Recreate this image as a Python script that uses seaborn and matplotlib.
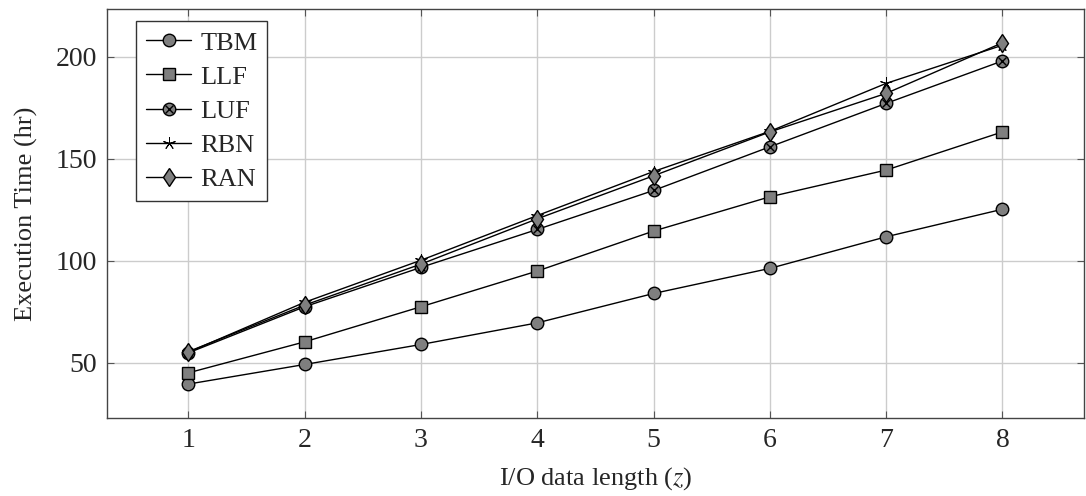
import matplotlib
matplotlib.use("Agg")
import matplotlib.pyplot as plt
import seaborn as sns
from matplotlib.lines import Line2D
from matplotlib.legend_handler import HandlerTuple

# I/O data length and execution time (hours) for each scheduling policy
z = [1, 2, 3, 4, 5, 6, 7, 8]
tbm = [39.6, 49.2, 59.0, 69.6, 84.0, 96.3, 111.8, 125.3]
llf = [45.1, 60.3, 77.5, 95.0, 114.6, 131.4, 144.5, 163.2]
luf = [54.9, 77.5, 96.8, 115.4, 134.5, 155.9, 177.2, 198.0]
rbn = [55.2, 79.7, 100.3, 122.2, 143.8, 163.5, 187.0, 205.7]
ran = [55.5, 78.3, 98.4, 120.6, 141.7, 163.2, 182.1, 206.9]
series_names = ["TBM", "LLF", "LUF", "RBN", "RAN"]
x_ticks = [1, 2, 3, 4, 5, 6, 7, 8]
y_ticks = [50, 100, 150, 200]

sns.set_theme(style="ticks")
plt.rcParams["font.family"] = ["Liberation Serif", "DejaVu Serif"]
plt.rcParams["mathtext.fontset"] = "stix"

FS_TICK = 20
FS_LABEL = 19
FS_LEG = 19
GRAY = "#7f7f7f"
STAR = (5, 2, 0)

fig = plt.figure(figsize=(10.86, 4.96), dpi=100)
ax = fig.add_axes([0.0985, 0.157, 0.8995, 0.825])

common = dict(color="black", linewidth=1.0, markerfacecolor=GRAY,
              markeredgecolor="black", markeredgewidth=1.0,
              errorbar=None, legend=False, ax=ax)

sns.lineplot(x=z, y=tbm, marker="o", markersize=9.0, **common)
sns.lineplot(x=z, y=llf, marker="s", markersize=8.4, **common)
sns.lineplot(x=z, y=luf, marker="o", markersize=9.0, **common)
ax.plot(z, luf, linestyle="none", marker="x", markersize=6.0,
        markeredgecolor="black", markeredgewidth=1.0)
rbn_kw = dict(common, markeredgewidth=0.7)
sns.lineplot(x=z, y=rbn, marker=STAR, markersize=9.0, **rbn_kw)
sns.lineplot(x=z, y=ran, marker="d", markersize=9.5, **common)

ax.set_xlim(0.3, 8.7)
ax.set_ylim(22.9, 223.5)
ax.set_xticks(x_ticks)
ax.set_yticks(y_ticks)
ax.grid(True, color="#cccccc", linewidth=1.0)
ax.set_axisbelow(True)
ax.tick_params(direction="in", length=5, width=0.8, color="#555555",
               top=True, right=True, labelsize=FS_TICK, pad=7)
for s in ax.spines.values():
    s.set_color("#444444")
    s.set_linewidth(1.0)

ax.set_xlabel("I/O data length ($z$)", fontsize=FS_LABEL, labelpad=9)
ax.set_ylabel("Execution Time (hr)", fontsize=FS_LABEL, labelpad=13)

kw = dict(color="black", linewidth=1.0, markerfacecolor=GRAY,
          markeredgecolor="black", markeredgewidth=1.0)
h_tbm = Line2D([], [], marker="o", markersize=9.0, **kw)
h_llf = Line2D([], [], marker="s", markersize=8.4, **kw)
h_luf = (Line2D([], [], marker="o", markersize=9.0, **kw),
         Line2D([], [], linestyle="none", marker="x", markersize=6.0,
                markeredgecolor="black", markeredgewidth=1.0))
h_rbn = Line2D([], [], marker=STAR, markersize=9.0,
               **dict(kw, markeredgewidth=0.7))
h_ran = Line2D([], [], marker="d", markersize=9.5, **kw)

leg = ax.legend([h_tbm, h_llf, h_luf, h_rbn, h_ran], series_names,
                handler_map={tuple: HandlerTuple(ndivide=1, pad=0)},
                loc="upper left", bbox_to_anchor=(0.03, 0.97),
                fontsize=FS_LEG, frameon=True, fancybox=False, framealpha=1,
                edgecolor="#333333", handlelength=1.7, handletextpad=0.34,
                labelspacing=0.4, borderpad=0.38, borderaxespad=0.0)
leg.get_frame().set_linewidth(1.0)

fig.savefig("out.png", dpi=100)
